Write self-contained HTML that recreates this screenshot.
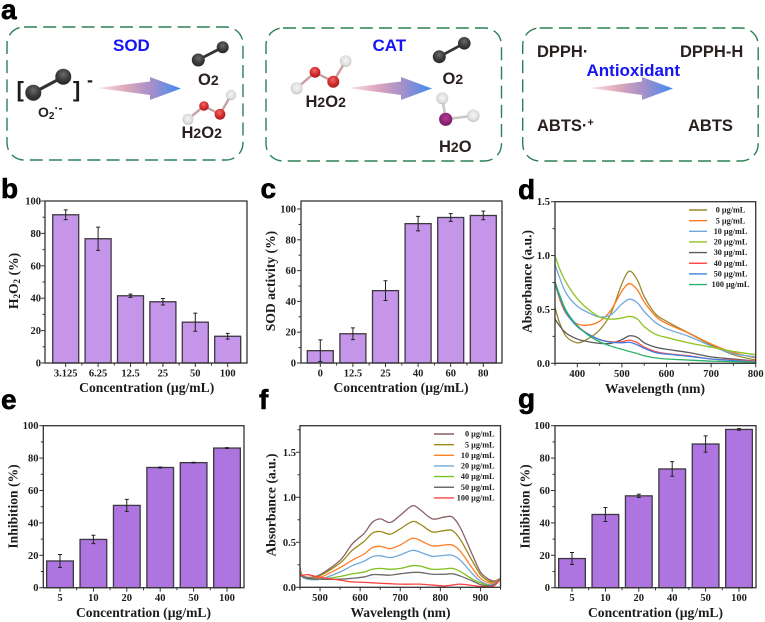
<!DOCTYPE html>
<html>
<head>
<meta charset="utf-8">
<title>Antioxidant activity figure</title>
<style>
html,body{margin:0;padding:0;background:#fff;}
svg{display:block;filter:blur(0.35px);}
text{font-family:"Liberation Serif",serif;font-weight:bold;fill:#1c1c1c;}
.sans{font-family:"Liberation Sans",sans-serif;font-weight:bold;}
.plabel{font-family:"Liberation Sans",sans-serif;font-weight:bold;font-size:28px;fill:#000;stroke:#000;stroke-width:.6;}
.enz{font-family:"Liberation Sans",sans-serif;font-weight:bold;font-size:17px;fill:#1414f5;}
.chem{font-family:"Liberation Sans",sans-serif;font-weight:bold;font-size:16.5px;fill:#2a2020;}
.title{font-size:13.6px;}
.tick{font-size:10.5px;}
.leg{font-size:8.2px;}
.box{fill:none;stroke:#2a8055;stroke-width:1.4;stroke-dasharray:13 6.2;}
</style>
</head>
<body>
<svg id="figure" width="765" height="622" viewBox="0 0 765 622" xmlns="http://www.w3.org/2000/svg">
<defs>
<linearGradient id="arrowGrad" x1="0" x2="1" y1="0" y2="0">
<stop offset="0" stop-color="#fbe3e6"/><stop offset=".35" stop-color="#dca6bb"/><stop offset=".65" stop-color="#a58fca"/><stop offset="1" stop-color="#3f8cf2"/>
</linearGradient>
<radialGradient id="gDark" cx=".5" cy=".35" r=".65"><stop offset="0" stop-color="#6a6a6a"/><stop offset=".6" stop-color="#3a3a3a"/><stop offset="1" stop-color="#262626"/></radialGradient>
<radialGradient id="gRed" cx=".45" cy=".35" r=".65"><stop offset="0" stop-color="#ee6a6a"/><stop offset=".6" stop-color="#d42a2a"/><stop offset="1" stop-color="#a52020"/></radialGradient>
<radialGradient id="gWhite" cx=".5" cy=".45" r=".6"><stop offset="0" stop-color="#f6f6f6"/><stop offset=".7" stop-color="#dcdcdc"/><stop offset="1" stop-color="#a8a8a8"/></radialGradient>
<radialGradient id="gPurple" cx=".5" cy=".4" r=".6"><stop offset="0" stop-color="#b03a90"/><stop offset="1" stop-color="#7a1a66"/></radialGradient>
</defs>

<g id="panel-a">
<text class="plabel" x="1" y="19">a</text>
<rect class="box" x="7" y="27" width="236" height="133" rx="17"/>
<rect class="box" x="266" y="28" width="235.5" height="133" rx="17"/>
<rect class="box" x="522.7" y="28" width="235.5" height="133" rx="17"/>

<polygon points="97,88 150,81.5 150,77 181,88.5 150,100 150,95" fill="url(#arrowGrad)"/>
<polygon points="348,88 401,81.5 401,77 432,88.5 401,100 401,95" fill="url(#arrowGrad)"/>
<polygon points="590,88 642,81.5 642,77 673,88.5 642,100 642,95" fill="url(#arrowGrad)"/>

<text class="enz" x="113" y="51">SOD</text>
<text class="enz" x="372.5" y="51">CAT</text>
<text class="enz" x="586.5" y="76">Antioxidant</text>

<g>
<line x1="33" y1="93" x2="63" y2="77" stroke="#333" stroke-width="3.2"/>
<circle cx="33.3" cy="92.7" r="8" fill="url(#gDark)"/><circle cx="63.3" cy="76.7" r="8" fill="url(#gDark)"/>
</g>
<text class="sans" x="16.5" y="97" font-size="22" fill="#111">[</text>
<text class="sans" x="73" y="97" font-size="22" fill="#111">]</text>
<text class="sans" x="87" y="86" font-size="18" fill="#111">-</text>
<text class="chem" x="38" y="117" style="font-size:14px">O<tspan font-size="10" dy="2">2</tspan><tspan font-size="12" dy="-7">·-</tspan></text>

<g>
<line x1="198" y1="60" x2="222.7" y2="47.3" stroke="#333" stroke-width="2.8"/>
<circle cx="198.3" cy="60" r="6.5" fill="url(#gDark)"/><circle cx="222.7" cy="47.3" r="6" fill="url(#gDark)"/>
</g>
<text class="chem" x="198" y="85">O<tspan font-size="14">2</tspan></text>

<g>
<path d="M188 119.3L204 106L220 114.3L231 95" fill="none" stroke="#c9a0a0" stroke-width="2.4"/>
<circle cx="188" cy="119.3" r="5.5" fill="url(#gWhite)"/><circle cx="231" cy="95" r="5.2" fill="url(#gWhite)"/>
<circle cx="204" cy="106" r="4.8" fill="url(#gRed)"/><circle cx="220" cy="114.3" r="5.4" fill="url(#gRed)"/>
</g>
<text class="chem" x="181.5" y="138">H<tspan font-size="14">2</tspan>O<tspan font-size="14">2</tspan></text>

<g>
<path d="M296.7 88.3L315 72.3L333.3 81.7L345.7 61" fill="none" stroke="#c9a0a0" stroke-width="2.4"/>
<circle cx="296.7" cy="88.3" r="6" fill="url(#gWhite)"/><circle cx="345.7" cy="61" r="5.8" fill="url(#gWhite)"/>
<circle cx="315" cy="72.3" r="5.4" fill="url(#gRed)"/><circle cx="333.3" cy="81.7" r="6" fill="url(#gRed)"/>
</g>
<text class="chem" x="305.5" y="107">H<tspan font-size="14">2</tspan>O<tspan font-size="14">2</tspan></text>

<g>
<line x1="439.3" y1="56.7" x2="464.3" y2="43.3" stroke="#333" stroke-width="2.8"/>
<circle cx="439.3" cy="56.7" r="6.5" fill="url(#gDark)"/><circle cx="464.3" cy="43.3" r="6.3" fill="url(#gDark)"/>
</g>
<text class="chem" x="442.5" y="84">O<tspan font-size="14">2</tspan></text>

<g>
<path d="M442.3 98.3L445.7 119.3L473.3 115.7" fill="none" stroke="#c8c8c8" stroke-width="2.6"/>
<circle cx="442.3" cy="98.3" r="6" fill="url(#gWhite)"/><circle cx="473.3" cy="115.7" r="6.3" fill="url(#gWhite)"/>
<circle cx="445.7" cy="119.3" r="6.6" fill="url(#gPurple)"/>
</g>
<text class="chem" x="439" y="152">H<tspan font-size="14">2</tspan>O</text>

<text class="chem" x="537" y="57">DPPH·</text>
<text class="chem" x="680" y="57">DPPH-H</text>
<text class="chem" x="537" y="131">ABTS·<tspan font-size="11" dy="-5">+</tspan></text>
<text class="chem" x="688" y="131">ABTS</text>
</g>

<text class="plabel" x="1" y="198">b</text>
<text class="plabel" x="260.5" y="198">c</text>
<text class="plabel" x="518" y="199">d</text>
<text class="plabel" x="1" y="409">e</text>
<text class="plabel" x="259" y="409">f</text>
<text class="plabel" x="518" y="408">g</text>

<text class="title" text-anchor="middle" x="146.7" y="392">Concentration (µg/mL)</text>
<text class="title" text-anchor="middle" x="401" y="392">Concentration (µg/mL)</text>
<text class="title" text-anchor="middle" x="655" y="393">Wavelength (nm)</text>
<text class="title" text-anchor="middle" x="143.5" y="617">Concentration (µg/mL)</text>
<text class="title" text-anchor="middle" x="400.5" y="617">Wavelength (nm)</text>
<text class="title" text-anchor="middle" x="655.5" y="617">Concentration (µg/mL)</text>

<text class="title" text-anchor="middle" transform="translate(18 281) rotate(-90)">H<tspan font-size="9" dy="2">2</tspan><tspan dy="-2">O</tspan><tspan font-size="9" dy="2">2</tspan><tspan dy="-2"> (%)</tspan></text>
<text class="title" text-anchor="middle" transform="translate(275 281) rotate(-90)">SOD activity (%)</text>
<text class="title" text-anchor="middle" transform="translate(531.5 281.5) rotate(-90)">Absorbance (a.u.)</text>
<text class="title" text-anchor="middle" transform="translate(17.5 506.5) rotate(-90)">Inhibition (%)</text>
<text class="title" text-anchor="middle" transform="translate(275.5 505) rotate(-90)">Absorbance (a.u.)</text>
<text class="title" text-anchor="middle" transform="translate(529.5 506.5) rotate(-90)">Inhibition (%)</text>
</svg>

<script>
// Panel b
var bCategories = ['3.125','6.25','12.5','25','50','100'];
var bValues = [91.5,76.7,41.5,37.8,25.2,16.5];
var bErrors = [3,7.2,1,2,5.6,1.8];
// Panel c
var cCategories = ['0','12.5','25','40','60','80'];
var cValues = [8,19,47,90.5,94.5,95.8];
var cErrors = [7,3.8,6.4,4.7,2.5,2.8];
// Panel e
var eCategories = ['5','10','20','40','50','100'];
var eValues = [16.5,29.8,50.8,74.2,77.2,86.2];
var eErrors = [4,2.6,3.7,0.3,0.2,0.3];
// Panel g
var gCategories = ['5','10','20','40','50','100'];
var gValues = [18,45.2,56.7,73.3,88.7,97.7];
var gErrors = [3.7,4.3,1,4.5,5,0.5];
var percentTicks = [0,20,40,60,80,100];
var percentMinorTicks = [10,30,50,70,90];

// Panel d
var dWavelengths = [350,360,375,400,425,450,475,500,517,535,550,575,600,650,700,750,800];
var dLabels = ['0 µg/mL','5 µg/mL','10 µg/mL','20 µg/mL','30 µg/mL','40 µg/mL','50 µg/mL','100 µg/mL'];
var d0 = [0.52,0.38,0.25,0.19,0.23,0.31,0.46,0.74,0.855,0.77,0.62,0.46,0.39,0.28,0.17,0.08,0.03];
var d5 = [0.75,0.6,0.46,0.365,0.355,0.39,0.49,0.67,0.74,0.68,0.57,0.44,0.37,0.28,0.18,0.1,0.05];
var d10 = [0.92,0.8,0.65,0.53,0.47,0.43,0.45,0.55,0.595,0.56,0.48,0.38,0.32,0.25,0.16,0.09,0.06];
var d20 = [1.0,0.88,0.75,0.6,0.5,0.43,0.41,0.42,0.435,0.41,0.34,0.27,0.24,0.19,0.15,0.11,0.08];
var d30 = [0.41,0.35,0.28,0.225,0.2,0.185,0.185,0.22,0.255,0.24,0.19,0.15,0.13,0.1,0.06,0.04,0.02];
var d40 = [0.74,0.62,0.48,0.35,0.27,0.22,0.2,0.2,0.215,0.19,0.15,0.11,0.09,0.07,0.04,0.03,0.02];
var d50 = [0.74,0.62,0.47,0.34,0.27,0.22,0.195,0.19,0.195,0.17,0.14,0.1,0.085,0.065,0.04,0.025,0.015];
var d100 = [0.76,0.64,0.49,0.35,0.26,0.2,0.16,0.13,0.11,0.09,0.07,0.05,0.04,0.03,0.02,0.015,0.01];
var dXTicks = [400,500,600,700,800];
var dXMinorTicks = [350,450,550,650,750];
var dYTicks = [0,0.5,1,1.5];
var dYMinorTicks = [0.25,0.75,1.25];
var dYTickLabels = ['0.0','0.5','1.0','1.5'];

// Panel f
var fWavelengths = [450,455,470,500,550,580,610,630,650,675,700,730,750,780,810,830,850,880,900,920,935,950];
var fLabels = ['0 µg/mL','5 µg/mL','10 µg/mL','20 µg/mL','40 µg/mL','50 µg/mL','100 µg/mL'];
var f0 = [0.22,0.14,0.11,0.14,0.3,0.48,0.6,0.72,0.76,0.72,0.8,0.905,0.86,0.76,0.78,0.78,0.66,0.36,0.17,0.09,0.07,0.1];
var f5 = [0.2,0.13,0.1,0.13,0.27,0.41,0.51,0.6,0.62,0.59,0.65,0.73,0.7,0.615,0.63,0.63,0.53,0.29,0.14,0.07,0.06,0.09];
var f10 = [0.2,0.13,0.1,0.11,0.22,0.3,0.37,0.44,0.455,0.43,0.47,0.545,0.52,0.46,0.47,0.47,0.4,0.21,0.1,0.05,0.05,0.09];
var f20 = [0.18,0.12,0.09,0.09,0.17,0.24,0.29,0.34,0.35,0.33,0.36,0.41,0.39,0.345,0.355,0.355,0.3,0.15,0.07,0.03,0.04,0.09];
var f40 = [0.17,0.12,0.1,0.09,0.12,0.15,0.17,0.2,0.21,0.2,0.21,0.24,0.235,0.2,0.205,0.21,0.175,0.09,0.05,0.02,0.03,0.09];
var f50 = [0.15,0.12,0.1,0.09,0.09,0.1,0.115,0.14,0.14,0.135,0.15,0.165,0.165,0.145,0.145,0.15,0.125,0.07,0.03,0.015,0.03,0.09];
var f100 = [0.13,0.13,0.14,0.11,0.08,0.06,0.055,0.05,0.045,0.04,0.035,0.035,0.035,0.025,0.015,0.025,0.035,0.02,0.01,0.005,0.02,0.09];
var fXTicks = [500,600,700,800,900];
var fXMinorTicks = [450,550,650,750,850,950];
var fYTicks = [0,0.5,1,1.5];
var fYMinorTicks = [0.25,0.75,1.25,1.75];
var fYTickLabels = ['0.0','0.5','1.0','1.5'];

var NS = 'http://www.w3.org/2000/svg';
var fig = document.getElementById('figure');

function make(tag, attrs, parent) {
  var el = document.createElementNS(NS, tag);
  for (var k in attrs) el.setAttribute(k, attrs[k]);
  parent.appendChild(el);
  return el;
}
function scale(d0, d1, r0, r1) {
  return function (v) { return r0 + (v - d0) * (r1 - r0) / (d1 - d0); };
}
function smoothPath(pts) {
  var d = 'M' + pts[0][0].toFixed(2) + ' ' + pts[0][1].toFixed(2);
  for (var i = 0; i < pts.length - 1; i++) {
    var p0 = pts[Math.max(i - 1, 0)], p1 = pts[i], p2 = pts[i + 1], p3 = pts[Math.min(i + 2, pts.length - 1)];
    var c1x = p1[0] + (p2[0] - p0[0]) / 6, c1y = p1[1] + (p2[1] - p0[1]) / 6;
    var c2x = p2[0] - (p3[0] - p1[0]) / 6, c2y = p2[1] - (p3[1] - p1[1]) / 6;
    d += 'C' + c1x.toFixed(2) + ' ' + c1y.toFixed(2) + ' ' + c2x.toFixed(2) + ' ' + c2y.toFixed(2) + ' ' + p2[0].toFixed(2) + ' ' + p2[1].toFixed(2);
  }
  return d;
}
function tickLine(g, x1, y1, x2, y2) {
  var el = make('line', {x1: x1, y1: y1, x2: x2, y2: y2, stroke: '#333', 'stroke-width': 1}, g);
  
  
}
function label(g, txt, x, y, anchor, cls) {
  var el = make('text', {x: x, y: y, 'text-anchor': anchor, 'class': cls}, g);
  el.textContent = txt;
  
  
}
function frame(g, L, R, T, B) {
  var el = make('rect', {x: L, y: T, width: R - L, height: B - T, fill: 'none', stroke: '#333', 'stroke-width': 1.3}, g);
  
  
}
function yAxis(g, y, ticks, minor, labels, L, labelX) {
  ticks.forEach(function (t, i) {
    tickLine(g, L - 4, y(t), L, y(t));
    label(g, labels ? labels[i] : String(t), labelX, y(t) + 3.5, 'end', 'tick');
  });
  minor.forEach(function (t) { tickLine(g, L - 2.5, y(t), L, y(t)); });
}

function barChart(name, cats, vals, errs, o) {
  var g = make('g', {}, fig);
  
  
  var y = scale(0, o.yMax, o.B, o.T);
  var x = function (i) { return o.mid + (i - (cats.length - 1) / 2) * o.step; };
  cats.forEach(function (c, i) {
    var top = y(vals[i]);
    var bar = make('rect', {x: x(i) - o.w / 2, y: top, width: o.w, height: o.B - top, fill: o.color, stroke: '#3c3840', 'stroke-width': 1.3}, g);
    
    
    var up = y(vals[i] + errs[i]), dn = y(vals[i] - errs[i]);
    var err = make('path', {d: 'M' + x(i) + ' ' + up + 'V' + dn + 'M' + (x(i) - 2) + ' ' + up + 'h4M' + (x(i) - 2) + ' ' + dn + 'h4', fill: 'none', stroke: '#222', 'stroke-width': 1}, g);
    
    
    tickLine(g, x(i), o.B, x(i), o.B + 4);
    if (i > 0) tickLine(g, x(i) - o.step / 2, o.B, x(i) - o.step / 2, o.B + 2.5);
    label(g, c, x(i), o.B + 13.5, 'middle', 'tick');
  });
  yAxis(g, y, percentTicks, percentMinorTicks, null, o.L, o.labelX);
  frame(g, o.L, o.R, o.T, o.B);
}

function lineChart(name, xs, series, names, colors, o) {
  var g = make('g', {}, fig);
  
  
  var x = scale(o.xMin, o.xMax, o.L, o.R);
  var y = scale(0, o.yMax, o.B, o.T);
  series.forEach(function (s, i) {
    var pts = s.map(function (v, j) { return [x(xs[j]), y(v)]; });
    var p = make('path', {d: smoothPath(pts), fill: 'none', stroke: colors[i], 'stroke-width': 1.3}, g);
    
    
  });
  o.xTicks.forEach(function (t) {
    tickLine(g, x(t), o.B, x(t), o.B + 4);
    label(g, String(t), x(t), o.B + 13.5, 'middle', 'tick');
  });
  o.xMinor.forEach(function (t) { tickLine(g, x(t), o.B, x(t), o.B + 2.5); });
  yAxis(g, y, o.yTicks, o.yMinor, o.yLabels, o.L, o.labelX);
  frame(g, o.L, o.R, o.T, o.B);
  names.forEach(function (n, i) {
    var ly = o.legY + i * o.legStep;
    var ll = make('line', {x1: o.legX1, y1: ly, x2: o.legX2, y2: ly, stroke: colors[i], 'stroke-width': 1.4}, g);
    
    
    var t = make('text', {x: o.legText, y: ly + 2.6, 'text-anchor': o.legAnchor, 'class': 'leg'}, g);
    t.textContent = n;
    
    
  });
}

barChart('chart-b-h2o2', bCategories, bValues, bErrors, {L: 45, R: 247, T: 201, B: 363, yMax: 100, mid: 146.7, step: 32.4, w: 26, color: '#c495e8', labelX: 41});
barChart('chart-c-sod-activity', cCategories, cValues, cErrors, {L: 301, R: 502, T: 201, B: 363, yMax: 105.2, mid: 401.8, step: 32.6, w: 26, color: '#c495e8', labelX: 296});
barChart('chart-e-inhibition', eCategories, eValues, eErrors, {L: 43.3, R: 244, T: 425.7, B: 587.7, yMax: 100, mid: 143.5, step: 33.4, w: 26.7, color: '#ae74df', labelX: 38.5});
barChart('chart-g-inhibition', gCategories, gValues, gErrors, {L: 555, R: 756, T: 425.7, B: 587.7, yMax: 100, mid: 655.5, step: 33.4, w: 26.7, color: '#ae74df', labelX: 550});

lineChart('chart-d-absorbance', dWavelengths, [d0, d5, d10, d20, d30, d40, d50, d100], dLabels,
  ['#9a8a2e', '#ff7a1f', '#6fa8dc', '#8fc31f', '#5a5a5a', '#ff4d4d', '#3f7fe0', '#2fb36a'],
  {L: 555, R: 755.7, T: 201.7, B: 363.3, xMin: 350, xMax: 800, yMax: 1.5, xTicks: dXTicks, xMinor: dXMinorTicks, yTicks: dYTicks, yMinor: dYMinorTicks, yLabels: dYTickLabels, labelX: 550, legY: 210, legStep: 10.65, legX1: 689, legX2: 707, legText: 730.5, legAnchor: 'middle'});

lineChart('chart-f-absorbance', fWavelengths, [f0, f5, f10, f20, f40, f50, f100], fLabels,
  ['#8b5f63', '#9a8a1a', '#ff7f27', '#6fa8dc', '#7dc11f', '#6b6b6b', '#ff4040'],
  {L: 300, R: 500.5, T: 425.7, B: 587.3, xMin: 450, xMax: 950, yMax: 1.795, xTicks: fXTicks, xMinor: fXMinorTicks, yTicks: fYTicks, yMinor: fYMinorTicks, yLabels: fYTickLabels, labelX: 296, legY: 434, legStep: 10.65, legX1: 434, legX2: 454, legText: 494.5, legAnchor: 'end'});
</script>
</body>
</html>
